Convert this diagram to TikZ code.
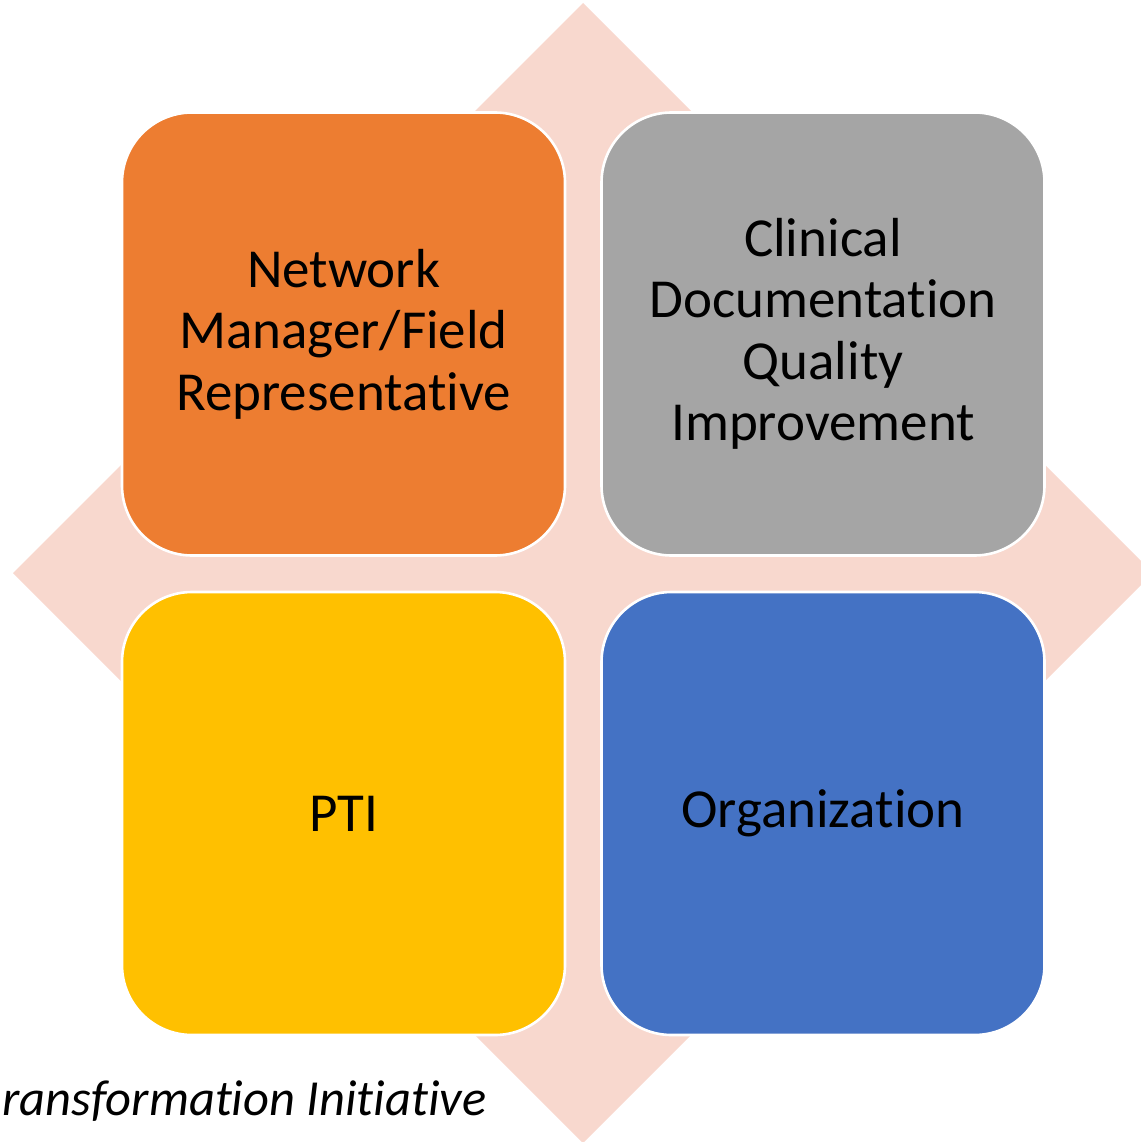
\documentclass[tikz,border=0pt]{standalone}
\usepackage{fontspec}
\setmainfont{Carlito}[Ligatures=NoCommon]
\usetikzlibrary{positioning}
\newcommand{\Side}{443pt}
\newcommand{\Round}{70pt}
\newcommand{\Rim}{2.6pt}
\definecolor{blush}{HTML}{F8D8CE}
\definecolor{tangerine}{HTML}{ED7D31}
\definecolor{slate}{HTML}{A5A5A5}
\definecolor{amber}{HTML}{FFC000}
\definecolor{cobalt}{HTML}{4472C4}
\tikzset{
  tile/.style={rectangle, rounded corners=\Round, draw=white, line width=\Rim,
    minimum width=\Side, minimum height=\Side, inner sep=0pt, outer sep=0pt,
    align=center, text=black, font=\fontsize{55}{61.5}\selectfont}
}

\begin{document}
\begin{tikzpicture}[x=1pt,y=-1pt]
  \useasboundingbox (0,0) rectangle (1140,1142);

  % ---- the pale diamond behind everything, its right tip runs off the page ----
  \fill[blush] (583,3) -- (1153,573) -- (583,1143) -- (13,573) -- cycle;

  % ---- four tiles, two by two ---------------------------------------------
  \node[tile, fill=tangerine] (network) at (343.5,334)
    {Network\\Manager/Field\\Representative};
  \node[tile, fill=slate] (clinical) at (823,334)
    {Clinical\\Documentation\\Quality\\Improvement};
  \node[tile, fill=amber] (pti) at (343.5,813.5) {PTI};
  \node[tile, fill=cobalt] (organization) at (823,813.5) {Organization};

  % ---- caption, running in from the left edge ------------------------------
  \node[anchor=base west, inner sep=0pt, font=\fontsize{50.5}{57}\selectfont\itshape]
    (caption) at (2,1115) {ransformation Initiative};

\end{tikzpicture}
\end{document}
